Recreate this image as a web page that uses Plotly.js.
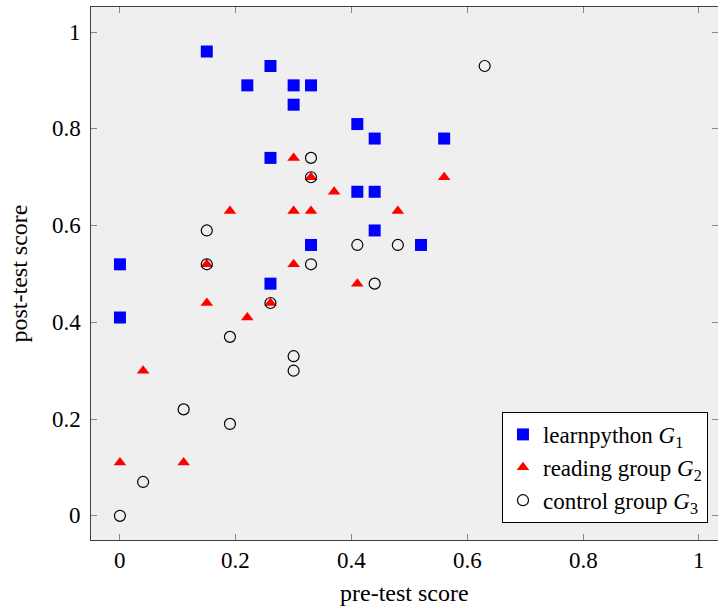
<!DOCTYPE html>
<html>
<head>
<meta charset="utf-8">
<script src="https://cdn.plot.ly/plotly-3.0.1.min.js"></script>
<style>html,body{margin:0;padding:0;background:#fff;overflow:hidden}#chart{width:718px;height:609px}</style>
</head>
<body>
<div id="chart"></div>
<script>
// learnpython G1
const g1_x = [0.15, 0.26, 0.22, 0.30, 0.33, 0.30, 0.41, 0.44, 0.56, 0.26, 0.41, 0.44, 0.44, 0.33, 0.52, 0.00, 0.26, 0.00];
const g1_y = [0.96, 0.93, 0.89, 0.89, 0.89, 0.85, 0.81, 0.78, 0.78, 0.74, 0.67, 0.67, 0.59, 0.56, 0.56, 0.52, 0.48, 0.41];
// reading group G2
const g2_x = [0.30, 0.33, 0.37, 0.19, 0.30, 0.33, 0.48, 0.56, 0.15, 0.30, 0.41, 0.15, 0.26, 0.22, 0.04, 0.00, 0.11];
const g2_y = [0.74, 0.70, 0.67, 0.63, 0.63, 0.63, 0.63, 0.70, 0.52, 0.52, 0.48, 0.44, 0.44, 0.41, 0.30, 0.11, 0.11];
// control group G3
const g3_x = [0.63, 0.33, 0.33, 0.15, 0.15, 0.33, 0.41, 0.48, 0.44, 0.26, 0.19, 0.30, 0.30, 0.11, 0.19, 0.04, 0.00];
const g3_y = [0.93, 0.74, 0.70, 0.59, 0.52, 0.52, 0.56, 0.56, 0.48, 0.44, 0.37, 0.33, 0.30, 0.22, 0.19, 0.07, 0.00];

const seriesNames = ['learnpython <i>G</i><sub>1</sub>', 'reading group <i>G</i><sub>2</sub>', 'control group <i>G</i><sub>3</sub>'];
const tickVals = [0, 0.2, 0.4, 0.6, 0.8, 1];
const tickText = ['0', '0.2', '0.4', '0.6', '0.8', '1'];
const xTitle = 'pre-test score';
const yTitle = 'post-test score';

const font = "'Liberation Serif', serif";
const tickFont = {family: font, size: 23, color: '#000000'};
const titleFont = {family: font, size: 24, color: '#000000'};

const traces = [
  {x: g1_x, y: g1_y, name: seriesNames[0], type: 'scatter', mode: 'markers',
   marker: {symbol: 'square', size: 12, color: '#0000ff', line: {width: 0}}},
  {x: g2_x, y: g2_y, name: seriesNames[1], type: 'scatter', mode: 'markers',
   marker: {symbol: 'triangle-up', size: 11, color: '#ff0000', line: {width: 0}}},
  {x: g3_x, y: g3_y, name: seriesNames[2], type: 'scatter', mode: 'markers',
   marker: {symbol: 'circle-open', size: 11, color: '#000000', line: {width: 1.2, color: '#000000'}}}
];

// tick labels and axis titles as annotations placed through the axes
const annotations = [];
tickVals.forEach((v, i) => {
  annotations.push({xref: 'x', yref: 'paper', x: v, y: 0, xanchor: 'center', yanchor: 'middle',
    yshift: -20, text: tickText[i], showarrow: false, font: tickFont});
  annotations.push({xref: 'paper', yref: 'y', x: 0, y: v, xanchor: 'right', yanchor: 'middle',
    xshift: -8, text: tickText[i], showarrow: false, font: tickFont});
});
annotations.push({xref: 'paper', yref: 'paper', x: 0.5, y: 0, xanchor: 'center', yanchor: 'middle',
  yshift: -53, text: xTitle, showarrow: false, font: titleFont});
annotations.push({xref: 'paper', yref: 'paper', x: 0, y: 0.5, xanchor: 'center', yanchor: 'middle',
  xshift: -73, textangle: -90, text: yTitle, showarrow: false, font: titleFont});

const axisCommon = {
  tickmode: 'array', tickvals: tickVals,
  ticks: 'inside', ticklen: 6, tickcolor: '#888888', tickwidth: 1,
  showticklabels: false,
  showgrid: false, zeroline: false,
  showline: true, linecolor: '#404040', linewidth: 1.3, mirror: 'ticks'
};

const layout = {
  width: 718, height: 609,
  margin: {l: 91, r: 0, t: 7, b: 69},
  paper_bgcolor: '#ffffff', plot_bgcolor: '#efefef',
  font: {family: font, size: 23, color: '#000000'},
  showlegend: true,
  legend: {x: 0.984, y: 0.032, xanchor: 'right', yanchor: 'bottom',
    bgcolor: '#ffffff', bordercolor: '#000000', borderwidth: 1,
    font: {family: font, size: 23, color: '#000000'}, itemwidth: 30, tracegroupgap: 0},
  xaxis: Object.assign({}, axisCommon, {range: [-0.05, 1.033]}),
  yaxis: Object.assign({}, axisCommon, {range: [-0.05, 1.052]}),
  annotations: annotations
};

Plotly.newPlot('chart', traces, layout, {displayModeBar: false, staticPlot: true});
</script>
</body>
</html>
